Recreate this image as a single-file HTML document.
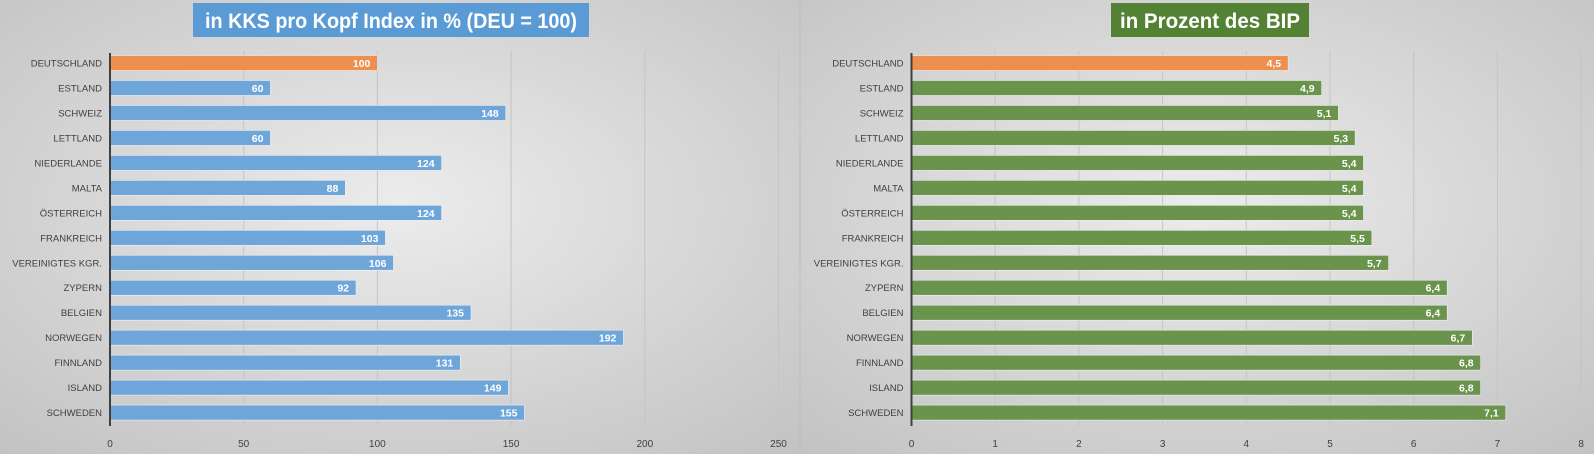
<!DOCTYPE html>
<html><head><meta charset="utf-8"><style>
body{margin:0;width:1594px;height:454px;overflow:hidden;font-family:"Liberation Sans",sans-serif}
</style></head><body>
<svg width="1594" height="454" xmlns="http://www.w3.org/2000/svg" font-family="Liberation Sans, sans-serif">
<defs>
<radialGradient id="g1" cx="50%" cy="45%" r="75%"><stop offset="0" stop-color="#ececec"/><stop offset="1" stop-color="#c2c2c2"/></radialGradient>
</defs>
<rect x="0" y="0" width="800" height="454" fill="url(#g1)"/>
<rect x="800" y="0" width="794" height="454" fill="url(#g1)"/>
<line x1="800" y1="0" x2="800" y2="454" stroke="#bdbdbd"/>
<g id="left"></g><g id="right"></g>
<rect x="193" y="3" width="396" height="34" fill="#5b9bd5"/>
<text x="391" y="28" text-anchor="middle" font-size="21" font-weight="bold" fill="#fff" textLength="372" lengthAdjust="spacingAndGlyphs">in KKS pro Kopf Index in % (DEU = 100)</text>
<rect x="1111" y="3" width="198" height="34" fill="#548235"/>
<text x="1210" y="28" text-anchor="middle" font-size="21" font-weight="bold" fill="#fff" textLength="180" lengthAdjust="spacingAndGlyphs">in Prozent des BIP</text>
</svg>
<script>
const names=["DEUTSCHLAND","ESTLAND","SCHWEIZ","LETTLAND","NIEDERLANDE","MALTA","ÖSTERREICH","FRANKREICH","VEREINIGTES KGR.","ZYPERN","BELGIEN","NORWEGEN","FINNLAND","ISLAND","SCHWEDEN"];
const a=[100,60,148,60,124,88,124,103,106,92,135,192,131,149,155];
const b=[4.5,4.9,5.1,5.3,5.4,5.4,5.4,5.5,5.7,6.4,6.4,6.7,6.8,6.8,7.1];
const ns="http://www.w3.org/2000/svg";
function el(p,t,at,tx){const e=document.createElementNS(ns,t);for(const k in at)e.setAttribute(k,at[k]);if(tx!==undefined)e.textContent=tx;p.appendChild(e);return e;}
function chart(id,x0,scale,ticks,vals,col,fmt){
 const g=document.getElementById(id);
 ticks.forEach(t=>{const x=x0+t*scale;if(t>0)el(g,"line",{x1:x,y1:51,x2:x,y2:426,stroke:"#c4c4c4"});
 el(g,"text",{x:x,y:447,"text-anchor":"middle","font-size":10,fill:"#404040"},String(t));});
 vals.forEach((v,i)=>{const y=63+i*24.97;
 el(g,"rect",{x:x0,y:y-7.5,width:v*scale,height:15,fill:i==0?"#ed8f4e":col,stroke:"#f0f0f0","stroke-width":0.6});
 el(g,"text",{x:x0+v*scale-7,y:y+4,"text-anchor":"end","font-size":10.5,"font-weight":"bold",fill:"#fff"},fmt(v));
 const t=el(g,"text",{x:x0-8,y:y+3.5,"text-anchor":"end","font-size":9.5,fill:"#404040"},names[i]);
 });
 el(g,"line",{x1:x0,y1:53,x2:x0,y2:426,stroke:"#404040","stroke-width":2});
}
chart("left",110,2.674,[0,50,100,150,200,250],a,"#6fa6da",v=>String(v));
chart("right",911.5,83.7,[0,1,2,3,4,5,6,7,8],b,"#6a934c",v=>v.toFixed(1).replace(".",","));
</script>
</body></html>
